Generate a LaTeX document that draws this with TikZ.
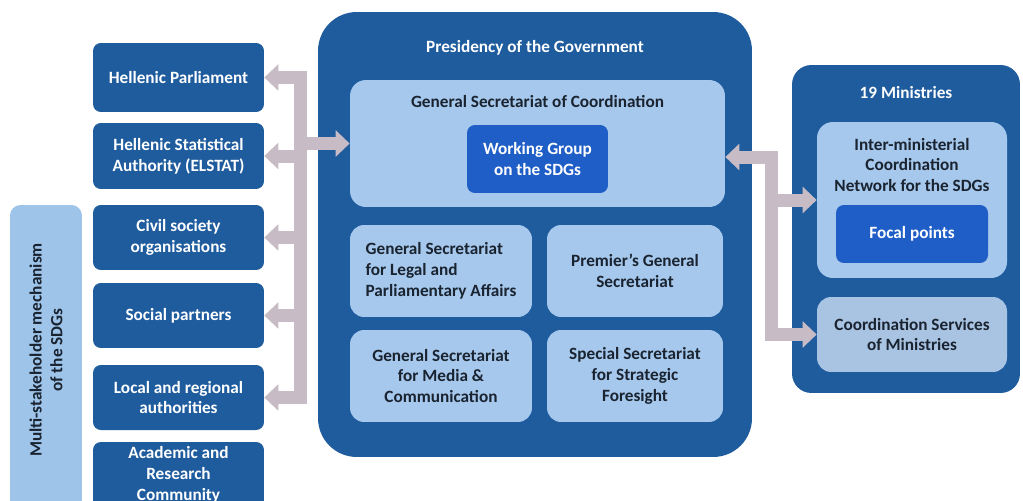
\documentclass[tikz,border=0pt]{standalone}
\usepackage{fontspec}
\setmainfont{Carlito}
\usetikzlibrary{arrows.meta}
\definecolor{dkblue}{HTML}{1F5C9E}
\definecolor{brblue}{HTML}{1F5EC6}
\definecolor{ltblue}{HTML}{A6C8EC}
\definecolor{ltgray}{HTML}{A9C4E2}
\definecolor{msblue}{HTML}{9EC4EA}
\definecolor{arrgray}{HTML}{C7BBC6}
\definecolor{txtdark}{HTML}{1A2330}
\begin{document}
\begin{tikzpicture}[x=0.02cm,y=-0.02cm,
  every node/.style={font=\fontsize{9.8}{11.8}\selectfont\bfseries, inner sep=0pt, align=center},
  darkbox/.style={fill=dkblue, rounded corners=4.5pt, text=white},
  brbox/.style={fill=brblue, rounded corners=4.5pt, text=white},
  lightbox/.style={fill=ltblue, rounded corners=8pt, text=txtdark},
  graybox/.style={fill=ltgray, rounded corners=8pt, text=txtdark},
  msbox/.style={fill=msblue, rounded corners=6pt},
  lighttext/.style={text=txtdark},
  darktext/.style={text=white},
  bus/.style={draw=arrgray, line width=7.4pt, line cap=rect},
  arr/.style={draw=arrgray, line width=7.4pt, -{Triangle[width=14.7pt,length=8pt]}}
]
\clip (0,0) rectangle (1023,500);
\fill[white] (0,0) rectangle (1023,500);

% multi-stakeholder
\node[msbox, minimum width=1.44cm, minimum height=6.3cm] (msm) at (46,362.5) {};
\node[lighttext, rotate=90] (msml) at (46,350) {Multi-stakeholder mechanism\\of the SDGs};

% left boxes
\node[darkbox, minimum width=3.42cm, minimum height=1.38cm] (hp) at (178.5,77.5) {Hellenic Parliament};
\node[darkbox, minimum width=3.42cm, minimum height=1.32cm] (elstat) at (178.5,156) {Hellenic Statistical\\Authority (ELSTAT)};
\node[darkbox, minimum width=3.42cm, minimum height=1.3cm] (cso) at (178.5,237.5) {Civil society\\organisations};
\node[darkbox, minimum width=3.42cm, minimum height=1.3cm] (sp) at (178.5,315.5) {Social partners};
\node[darkbox, minimum width=3.42cm, minimum height=1.3cm] (lra) at (178.5,397.5) {Local and regional\\authorities};
\node[darkbox, minimum width=3.42cm, minimum height=1.32cm] (arc) at (178.5,475) {Academic and\\Research\\Community};

% presidency
\node[darkbox, rounded corners=22pt, minimum width=8.68cm, minimum height=8.9cm] (pres) at (535,234.5) {};
\node[darktext] (prest) at (535,48) {Presidency of the Government};
\node[lightbox, rounded corners=9pt, minimum width=7.5cm, minimum height=2.54cm] (gsc) at (537.5,143.5) {};
\node[lighttext] (gsct) at (537.5,102) {General Secretariat of Coordination};
\node[brbox, minimum width=2.82cm, minimum height=1.36cm] (wg) at (537.5,159) {Working Group\\on the SDGs};
\node[lightbox, minimum width=3.64cm, minimum height=1.84cm, align=left] (legal) at (441,271) {General Secretariat\\for Legal and\\Parliamentary Affairs};
\node[lightbox, minimum width=3.52cm, minimum height=1.84cm] (prem) at (635,271) {Premier’s General\\Secretariat};
\node[lightbox, minimum width=3.64cm, minimum height=1.84cm] (media) at (441,376) {General Secretariat\\for Media \&\\Communication};
\node[lightbox, minimum width=3.52cm, minimum height=1.84cm] (special) at (635,376) {Special Secretariat\\for Strategic\\Foresight};

% ministries
\node[darkbox, rounded corners=11pt, minimum width=4.56cm, minimum height=6.56cm] (min) at (906,229) {};
\node[darktext] (mint) at (906,93) {19 Ministries};
\node[lightbox, rounded corners=9pt, minimum width=3.8cm, minimum height=3.12cm] (imn) at (912,200) {};
\node[lighttext] (imnt) at (912,165) {Inter-ministerial\\Coordination\\Network for the SDGs};
\node[brbox, minimum width=3.04cm, minimum height=1.16cm] (fp) at (912,234) {Focal points};
\node[graybox, minimum width=3.8cm, minimum height=1.5cm] (csm) at (912,334.5) {Coordination Services\\of Ministries};

% left bus
\coordinate (lbus) at (300,0);
\draw[bus] (lbus |- hp.east) -- (lbus |- lra.east);
\draw[arr] (lbus |- hp.east) -- (hp.east);
\draw[arr] (lbus |- elstat.east) -- (elstat.east);
\draw[arr] (lbus |- cso.east) -- (cso.east);
\draw[arr] (lbus |- sp.east) -- (sp.east);
\draw[arr] (lbus |- lra.east) -- (lra.east);
\draw[arr] (lbus |- gsc.west) -- (gsc.west);

% right bus
\coordinate (rtop) at (771,157);
\draw[bus] (rtop) -- (rtop |- csm.west);
\draw[arr] (rtop) -- (rtop -| gsc.east);
\draw[arr] (rtop |- imn.west) -- (imn.west);
\draw[arr] (rtop |- csm.west) -- (csm.west);
\end{tikzpicture}
\end{document}
